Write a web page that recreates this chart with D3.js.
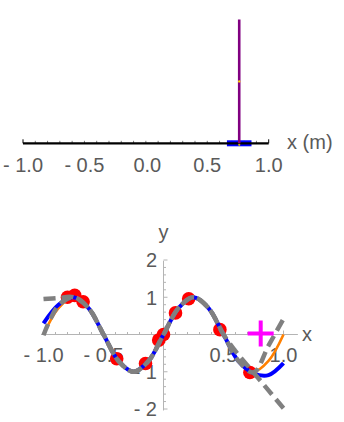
<!DOCTYPE html>
<html>
<head>
<meta charset="utf-8">
<script src="https://cdn.jsdelivr.net/npm/d3@7"></script>
<style>
  body { margin: 0; background: #fff; }
  text { font-family: "Liberation Sans", Arial, sans-serif; fill: #5a5a5a; }
</style>
</head>
<body>
<div id="chart"></div>
<script>
// top panel: cart + rod
const topTicks = [-1, -0.5, 0, 0.5, 1];
const topTickLabels = ["- 1.0", "- 0.5", "0.0", "0.5", "1.0"];
const cartX = [0.76];
const cartWidth = [0.2];
const rodLength = [1];

// bottom panel
const xs = [-1, -0.875, -0.75, -0.625, -0.5, -0.375, -0.25, -0.125, 0, 0.125, 0.25, 0.375, 0.5, 0.625, 0.75, 0.875, 1];
const orangeY = [0, 0.71, 1, 0.71, 0, -0.71, -1, -0.71, 0, 0.71, 1, 0.71, 0, -0.71, -1, -0.71, 0];
const blueY = [0.3, 0.8, 1.0, 0.71, 0, -0.71, -1, -0.71, 0, 0.71, 1, 0.71, 0, -0.72, -1.04, -1.09, -0.77];
const grayAY = [0.95, 0.98, 1.0, 0.71, 0, -0.71, -1, -0.71, 0, 0.71, 1, 0.71, 0, -0.55, -1.02, -1.5, -1.98];
const grayBY = [-0.02, 0.78, 1.0, 0.71, 0, -0.71, -1, -0.71, 0, 0.71, 1, 0.71, 0, -0.71, -1.02, -0.3, 0.42];
const redPts = [[-0.8, 1.0], [-0.74, 1.05], [-0.67, 0.88], [-0.39, -0.65], [-0.15, -0.78],
                [-0.04, -0.15], [0.0, 0.0], [0.1, 0.58], [0.21, 0.96], [0.47, 0.13], [0.72, -1.02]];
const target = [0.81, 0.03];
const xTicks = [-1, -0.5, 0.5, 1];
const xTickLabels = ["- 1.0", "- 0.5", "0.5", "1.0"];
const yTicks = [-2, -1, 1, 2];
const yTickLabels = ["- 2", "- 1", "1", "2"];

const svg = d3.select("#chart").append("svg")
    .attr("width", 344)
    .attr("height", 422);

// ---- top panel ----
const tx = d3.scaleLinear().domain([-1, 1]).range([23, 268.7]);
const ty = d3.scaleLinear().domain([0, 1]).range([143.3, 19.5]);

const gTop = svg.append("g");

// tiny ticks every 0.1
gTop.selectAll("line.mt")
    .data(d3.range(-10, 11).map(i => i / 10))
    .enter().append("line")
    .attr("x1", d => tx(d)).attr("x2", d => tx(d))
    .attr("y1", ty(0)).attr("y2", d => ty(0) - (Math.abs(d) === 1 ? 4 : 2.5))
    .attr("stroke", d => Math.abs(d) === 1 ? "#000" : "#777")
    .attr("stroke-width", 1);

// cart
gTop.append("rect")
    .attr("x", tx(cartX[0] - cartWidth[0] / 2))
    .attr("y", ty(0) - 3)
    .attr("width", tx(cartX[0] + cartWidth[0] / 2) - tx(cartX[0] - cartWidth[0] / 2))
    .attr("height", 6)
    .attr("fill", "#0000ff");

gTop.append("line")
    .attr("x1", tx(-1)).attr("x2", tx(1))
    .attr("y1", ty(0)).attr("y2", ty(0))
    .attr("stroke", "#000")
    .attr("stroke-width", 2.2);

// rod
gTop.append("line")
    .attr("x1", tx(cartX[0])).attr("x2", tx(cartX[0]))
    .attr("y1", ty(0)).attr("y2", ty(rodLength[0]))
    .attr("stroke", "#800080")
    .attr("stroke-width", 2.6);

gTop.append("circle")
    .attr("cx", tx(cartX[0])).attr("cy", ty(rodLength[0] / 2))
    .attr("r", 1.2).attr("fill", "#ffd700");
gTop.append("circle")
    .attr("cx", tx(cartX[0])).attr("cy", ty(0) + 1.5)
    .attr("r", 1.1).attr("fill", "#c8b400");

gTop.selectAll("text.tl")
    .data(topTicks)
    .enter().append("text")
    .attr("x", d => tx(d) + (d === 0 ? 1.5 : 0))
    .attr("y", 171.5)
    .attr("text-anchor", "middle")
    .attr("font-size", 20)
    .text((d, i) => topTickLabels[i]);

gTop.append("text")
    .attr("x", 287).attr("y", 148.5)
    .attr("font-size", 20)
    .text("x (m)");

// ---- bottom panel ----
const x = d3.scaleLinear().domain([-1, 1]).range([43.5, 283.5]);
const y = d3.scaleLinear().domain([-2, 2]).range([409, 260]);

const gBot = svg.append("g");
const axisCol = "#b4b4b4";

gBot.append("line")
    .attr("x1", x(-1.02)).attr("x2", x(1.12))
    .attr("y1", y(0)).attr("y2", y(0))
    .attr("stroke", axisCol);
gBot.append("line")
    .attr("x1", x(0)).attr("x2", x(0))
    .attr("y1", y(1.98)).attr("y2", y(-2.04))
    .attr("stroke", axisCol);

gBot.selectAll("line.xt")
    .data(d3.range(-10, 11).filter(i => i !== 0))
    .enter().append("line")
    .attr("x1", d => x(d / 10)).attr("x2", d => x(d / 10))
    .attr("y1", y(0)).attr("y2", d => y(0) - (d % 5 === 0 ? 4 : 2.5))
    .attr("stroke", axisCol);

gBot.selectAll("line.yt")
    .data(d3.range(-10, 11).filter(i => i !== 0))
    .enter().append("line")
    .attr("x1", x(0)).attr("x2", d => x(0) + (d % 5 === 0 ? 4 : 2.5))
    .attr("y1", d => y(d / 5)).attr("y2", d => y(d / 5))
    .attr("stroke", axisCol);

gBot.selectAll("text.xl")
    .data(xTicks)
    .enter().append("text")
    .attr("x", d => x(d))
    .attr("y", 361.5)
    .attr("text-anchor", "middle")
    .attr("font-size", 20)
    .text((d, i) => xTickLabels[i]);

gBot.selectAll("text.yl")
    .data(yTicks)
    .enter().append("text")
    .attr("x", 157)
    .attr("y", d => y(d) + 7.3)
    .attr("text-anchor", "end")
    .attr("font-size", 20)
    .text((d, i) => yTickLabels[i]);

gBot.append("text").attr("x", x(0)).attr("y", 239)
    .attr("text-anchor", "middle").attr("font-size", 20).text("y");
gBot.append("text").attr("x", 302).attr("y", 341)
    .attr("font-size", 20).text("x");

// red samples
gBot.selectAll("circle.red")
    .data(redPts)
    .enter().append("circle")
    .attr("cx", d => x(d[0])).attr("cy", d => y(d[1]))
    .attr("r", 6.8)
    .attr("fill", "#ff0000");

const line = d3.line()
    .x((d, i) => x(xs[i]))
    .y(d => y(d))
    .curve(d3.curveCatmullRom);

gBot.append("path").datum(orangeY)
    .attr("d", line).attr("fill", "none")
    .attr("stroke", "#ff8000").attr("stroke-width", 2.6);

gBot.append("path").datum(blueY)
    .attr("d", line).attr("fill", "none")
    .attr("stroke", "#0000ff").attr("stroke-width", 4);

[grayAY, grayBY].forEach(s => {
    gBot.append("path").datum(s)
        .attr("d", line).attr("fill", "none")
        .attr("stroke", "#808080").attr("stroke-width", 4.5)
        .attr("stroke-dasharray", "12,6");
});

// target marker
const pc = [x(target[0]), y(target[1])];
gBot.append("path")
    .attr("d", `M${pc[0] - 13},${pc[1]}H${pc[0] + 13}M${pc[0]},${pc[1] - 13}V${pc[1] + 13}`)
    .attr("stroke", "#ff00ff").attr("stroke-width", 4).attr("fill", "none");
</script>
</body>
</html>
